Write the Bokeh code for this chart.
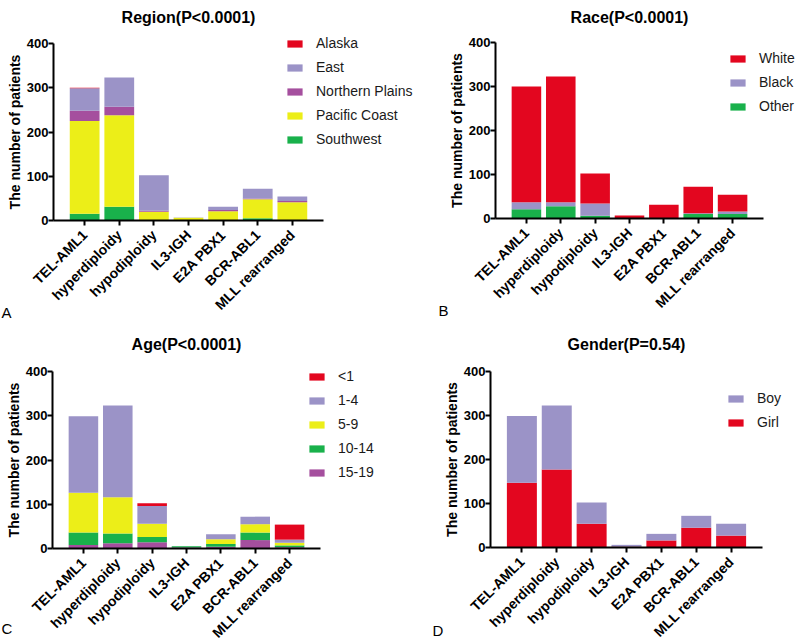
import math
from bokeh.plotting import figure
from bokeh.models import (ColumnDataSource, Range1d, Legend, LegendItem,
                          Label, FixedTicker)
from bokeh.layouts import row, column
from bokeh.embed import file_html
from bokeh.resources import INLINE

FONT = "Liberation Sans"

categories = ["TEL-AML1", "hyperdiploidy", "hypodiploidy", "IL3-IGH",
              "E2A PBX1", "BCR-ABL1", "MLL rearranged"]
y_ticks = [0, 100, 200, 300, 400]

# Panel A: Region (bottom of stack first)
region_labels = ["Southwest", "Pacific Coast", "Northern Plains", "East", "Alaska"]
region_southwest = [15, 31, 0, 0, 0, 5, 1]
region_pacific = [210, 207, 20, 6, 21, 43, 40]
region_northern = [23, 19, 2, 0, 3, 2, 3]
region_east = [51, 66, 80, 1, 7, 22, 10]
region_alaska = [1, 0, 0, 0, 0, 0, 0]

# Panel B: Race
race_labels = ["Other", "Black", "White"]
race_other = [21, 28, 6, 0, 0, 10, 10]
race_black = [16, 9, 28, 0, 1, 2, 6]
race_white = [263, 286, 68, 7, 30, 60, 38]

# Panel C: Age
age_labels = ["15-19", "10-14", "5-9", "1-4", "<1"]
age_15_19 = [8, 12, 14, 2, 4, 19, 3]
age_10_14 = [28, 22, 12, 3, 6, 17, 4]
age_5_9 = [90, 82, 30, 0, 11, 19, 6]
age_1_4 = [173, 207, 40, 0, 11, 17, 7]
age_lt1 = [0, 0, 6, 0, 0, 0, 34]

# Panel D: Gender
gender_labels = ["Girl", "Boy"]
gender_girl = [147, 177, 54, 2, 16, 45, 27]
gender_boy = [152, 146, 48, 4, 15, 27, 27]

RED = "#e3061f"
LAV = "#9b93c7"
PUR = "#a54f9e"
YEL = "#ecee18"
GRN = "#19b14b"

positions = [i + 1 for i in range(len(categories))]
XLO, XHI = 0.1, len(categories) + 0.9


def make_panel(title, letter, labels, series, colors, fig, box,
               title_base, legend_pos, letter_pos):
    fx, fy, W, H = fig
    left, right, top, bottom = box
    kx = (right - left) / (XHI - XLO)
    ky = (bottom - top) / 400.0
    x_start = XLO - (left - fx) / kx
    x_end = XHI + (fx + W - right) / kx
    y_end = 400 + (top - fy) / ky
    y_start = -(fy + H - bottom) / ky

    keys = ["s%d" % i for i in range(len(series))]
    data = {"x": positions}
    for k, v in zip(keys, series):
        data[k] = v
    src = ColumnDataSource(data)

    p = figure(x_range=Range1d(x_start, x_end), y_range=Range1d(y_start, y_end),
               width=W, height=H, min_border=0,
               min_border_left=0, min_border_right=0,
               min_border_top=0, min_border_bottom=0,
               output_backend="svg", toolbar_location=None)
    rs = p.vbar_stack(keys, x="x", width=0.86, source=src,
                      fill_color=colors, line_color=None)
    p.outline_line_color = None
    p.xgrid.visible = False
    p.ygrid.visible = False
    p.background_fill_color = "white"
    p.border_fill_color = "white"

    for ax in (p.xaxis[0], p.yaxis[0]):
        ax.axis_line_width = 2
        ax.axis_line_color = "black"
        ax.major_tick_line_width = 2
        ax.major_tick_line_color = "black"
        ax.major_tick_in = 0
        ax.major_tick_out = 5
        ax.minor_tick_line_color = None
        ax.major_label_text_font = FONT
        ax.major_label_text_font_style = "bold"
        ax.major_label_text_color = "black"

    p.xaxis.fixed_location = 0
    p.yaxis.fixed_location = XLO
    p.xaxis.bounds = (XLO, XHI)
    p.yaxis.bounds = (0, 400)

    p.yaxis.ticker = FixedTicker(ticks=y_ticks)
    p.yaxis.major_label_text_font_size = "13px"
    p.yaxis.major_label_standoff = 0
    p.yaxis.axis_label = "The number of patients"
    p.yaxis.axis_label_text_font = FONT
    p.yaxis.axis_label_text_font_style = "bold"
    p.yaxis.axis_label_text_font_size = "14px"
    p.yaxis.axis_label_text_color = "black"
    p.yaxis.axis_label_standoff = 1

    p.xaxis.ticker = FixedTicker(ticks=positions)
    p.xaxis.major_label_overrides = {pos: c for pos, c in zip(positions, categories)}
    p.xaxis.major_label_orientation = math.pi / 4
    p.xaxis.major_label_text_font_size = "14px"
    p.xaxis.major_label_standoff = 7

    items = [LegendItem(label=lab, renderers=[r])
             for lab, r in zip(reversed(labels), reversed(rs))]
    legend = Legend(items=items,
                    location=(legend_pos[0] - fx, fy + H - legend_pos[1]),
                    border_line_color=None, background_fill_alpha=0,
                    glyph_width=19, glyph_height=9, label_height=9,
                    spacing=8, padding=0, margin=0, label_standoff=12,
                    label_text_font=FONT, label_text_font_size="14px",
                    label_text_color="#1a1a1a")
    p.add_layout(legend, "center")

    p.add_layout(Label(x=(left + right) / 2 - fx, y=fy + H - title_base,
                       x_units="screen", y_units="screen", text=title,
                       text_align="center", text_baseline="alphabetic",
                       text_font=FONT, text_font_style="bold",
                       text_font_size="16px", text_color="black"))
    p.add_layout(Label(x=letter_pos[0] - fx, y=fy + H - letter_pos[1],
                       x_units="screen", y_units="screen", text=letter,
                       text_align="left", text_baseline="alphabetic",
                       text_font=FONT, text_font_size="15px",
                       text_color="black"))
    return p


pA = make_panel("Region(P<0.0001)", "A", region_labels,
                [region_southwest, region_pacific, region_northern,
                 region_east, region_alaska],
                [GRN, YEL, PUR, LAV, RED],
                (0, 0, 420, 320), (53, 323, 43, 220), 17,
                (285, 147), (1, 312))
pB = make_panel("Race(P<0.0001)", "B", race_labels,
                [race_other, race_black, race_white],
                [GRN, LAV, RED],
                (420, 0, 380, 320), (495, 763, 42, 218), 17,
                (728, 114), (438, 310))
pC = make_panel("Age(P<0.0001)", "C", age_labels,
                [age_15_19, age_10_14, age_5_9, age_1_4, age_lt1],
                [PUR, GRN, YEL, LAV, RED],
                (0, 320, 420, 322), (52, 320, 371, 548), 344,
                (307, 480), (1, 628))
pD = make_panel("Gender(P=0.54)", "D", gender_labels,
                [gender_girl, gender_boy],
                [RED, LAV],
                (420, 320, 380, 322), (490, 762, 371, 547), 344,
                (726, 430), (432, 630))

layout = column(row(pA, pB), row(pC, pD))
open("out.html", "w").write(file_html(layout, INLINE))
